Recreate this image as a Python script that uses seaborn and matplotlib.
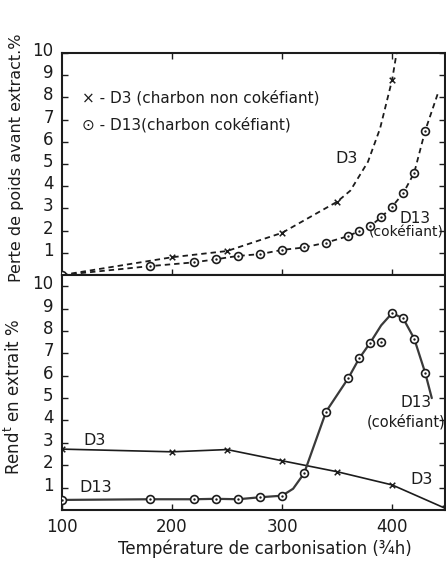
import pandas as pd
import seaborn as sns
import matplotlib.pyplot as plt
import matplotlib.transforms as mtransforms

sns.set_theme(style="white")
plt.rcParams['font.family'] = ['DejaVu Sans']

# --- haut : perte de poids avant extraction (%) ---
top_d3_temp = [100, 200, 250, 300, 350, 400]
top_d3_val = [0.0, 0.8, 1.08, 1.9, 3.3, 8.8]
# tracé de la courbe D3
top_d3_line_temp = [100, 200, 250, 300, 350, 362, 378, 389, 400, 404]
top_d3_line_val = [0.0, 0.8, 1.08, 1.9, 3.3, 3.8, 5.1, 6.6, 8.8, 10.0]

top_d13_temp = [100, 180, 220, 240, 260, 280, 300, 320, 340, 360, 370, 380, 390, 400, 410, 420, 430]
top_d13_val = [0.0, 0.4, 0.57, 0.71, 0.86, 0.94, 1.13, 1.24, 1.46, 1.75, 1.98, 2.2, 2.6, 3.08, 3.68, 4.6, 6.5]
top_d13_line_temp = top_d13_temp + [442]
top_d13_line_val = top_d13_val + [8.25]

# --- bas : rendement en extrait (%) ---
bot_d3_temp = [100, 200, 250, 300, 350, 400, 448]
bot_d3_val = [2.72, 2.6, 2.7, 2.2, 1.71, 1.12, 0.08]

bot_d13_temp = [100, 180, 220, 240, 260, 280, 300, 320, 340, 360, 370, 380, 390, 400, 410, 420, 430]
bot_d13_val = [0.45, 0.48, 0.48, 0.5, 0.48, 0.57, 0.64, 1.64, 4.4, 5.88, 6.77, 7.47, 7.5, 8.8, 8.56, 7.66, 6.13]
bot_d13_line_temp = [100, 180, 220, 240, 260, 280, 300, 310, 320, 340, 360, 370, 380, 390, 400, 410, 420, 430, 436]
bot_d13_line_val = [0.45, 0.48, 0.48, 0.5, 0.48, 0.57, 0.64, 0.95, 1.64, 4.4, 5.88, 6.77, 7.47, 8.25, 8.8, 8.56, 7.66, 6.13, 5.0]

x_ticks = [100, 200, 300, 400]
y_ticks = [1, 2, 3, 4, 5, 6, 7, 8, 9, 10]

ink = "#1c1c1c"

W, H = 446, 562
fig = plt.figure(figsize=(W / 100, H / 100), dpi=100)
ax1 = fig.add_axes([62 / W, 1 - 275 / H, 383 / W, 222 / H])
ax2 = fig.add_axes([62 / W, 1 - 510 / H, 383 / W, 235 / H])


def circles(ax, t, v):
    df = pd.DataFrame({'t': t, 'v': v})
    sns.scatterplot(data=df, x='t', y='v', ax=ax, marker='o', s=32, color='white',
                    edgecolor=ink, linewidth=1.2, zorder=4)
    sns.scatterplot(data=df, x='t', y='v', ax=ax, marker='o', s=3, color=ink,
                    edgecolor=ink, linewidth=0, zorder=5)


def crosses(ax, t, v):
    df = pd.DataFrame({'t': t, 'v': v})
    sns.scatterplot(data=df, x='t', y='v', ax=ax, marker='x', s=16, color=ink,
                    linewidth=1.1, zorder=4)


def line(ax, t, v, dashed=False, lw=1.3, color=ink):
    df = pd.DataFrame({'t': t, 'v': v})
    l = sns.lineplot(data=df, x='t', y='v', ax=ax, sort=False, estimator=None,
                     color=color, linewidth=lw, zorder=3)
    if dashed:
        l.lines[-1].set_dashes([3, 2.2])


# panneau haut
line(ax1, top_d3_line_temp, top_d3_line_val, dashed=True)
line(ax1, top_d13_line_temp, top_d13_line_val, dashed=True)
crosses(ax1, top_d3_temp[1:], top_d3_val[1:])
circles(ax1, top_d13_temp, top_d13_val)

# panneau bas
line(ax2, bot_d3_temp, bot_d3_val, lw=1.2)
line(ax2, bot_d13_line_temp, bot_d13_line_val, lw=1.6, color="#3a3a3a")
crosses(ax2, bot_d3_temp, bot_d3_val)
circles(ax2, bot_d13_temp, bot_d13_val)

off = mtransforms.ScaledTranslation(0, 4 / 100, fig.dpi_scale_trans)
for ax, ylim in ((ax1, (0, 10)), (ax2, (0, 10.5))):
    ax.set_xlim(100, 448)
    ax.set_ylim(*ylim)
    ax.set_yticks(y_ticks)
    ax.set_yticklabels([str(t) for t in y_ticks], fontsize=12)
    ax.tick_params(axis='y', direction='in', left=True, right=True, length=4,
                   width=1, color=ink, pad=6, labelcolor=ink)
    for lab in ax.get_yticklabels():
        lab.set_transform(lab.get_transform() + off)
    for s in ax.spines.values():
        s.set_linewidth(1.5)
        s.set_color(ink)
    ax.set_xlabel("")
    ax.set_ylabel("")

ax1.set_xticks([200, 300, 400])
ax1.tick_params(axis='x', direction='in', top=True, bottom=True, length=4, width=1,
                color=ink, labelbottom=False)
ax2.set_xticks(x_ticks)
ax2.set_xticklabels([str(t) for t in x_ticks], fontsize=12)
ax2.tick_params(axis='x', direction='in', bottom=True, top=False, length=4, width=1,
                color=ink, pad=6, labelcolor=ink)

ax1.set_ylabel("Perte de poids avant extract.%", fontsize=11.5, color=ink)
ax1.yaxis.set_label_coords(-0.098, 0.53)
ax2.set_ylabel(r"Rend$^{\mathrm{t}}$ en extrait %", fontsize=12, color=ink)
ax2.yaxis.set_label_coords(-0.098, 0.48)
ax2.set_xlabel("Température de carbonisation (¾h)", fontsize=12, color=ink)
ax2.xaxis.set_label_coords(0.53, -0.125)

# annotations
ax1.text(118, 8.0, "× - D3 (charbon non cokéfiant)", fontsize=11, color=ink, va='center')
ax1.text(118, 6.75, "⊙ - D13(charbon cokéfiant)", fontsize=11, color=ink, va='center')
ax1.text(359, 5.25, "D3", fontsize=11.5, color=ink, ha='center', va='center')
ax1.text(421, 2.55, "D13", fontsize=11, color=ink, ha='center', va='center')
ax1.text(447, 1.9, "(cokéfiant)", fontsize=10, color=ink, ha='right', va='center',
         clip_on=False)

ax2.text(130, 3.1, "D3", fontsize=11.5, color=ink, ha='center', va='center')
ax2.text(131, 1.0, "D13", fontsize=11.5, color=ink, ha='center', va='center')
ax2.text(422, 4.8, "D13", fontsize=11, color=ink, ha='center', va='center')
ax2.text(413, 3.95, "(cokéfiant)", fontsize=10.5, color=ink, ha='center', va='center')
ax2.text(427, 1.35, "D3", fontsize=11.5, color=ink, ha='center', va='center')

fig.savefig("out.png", dpi=100)
plt.close(fig)
